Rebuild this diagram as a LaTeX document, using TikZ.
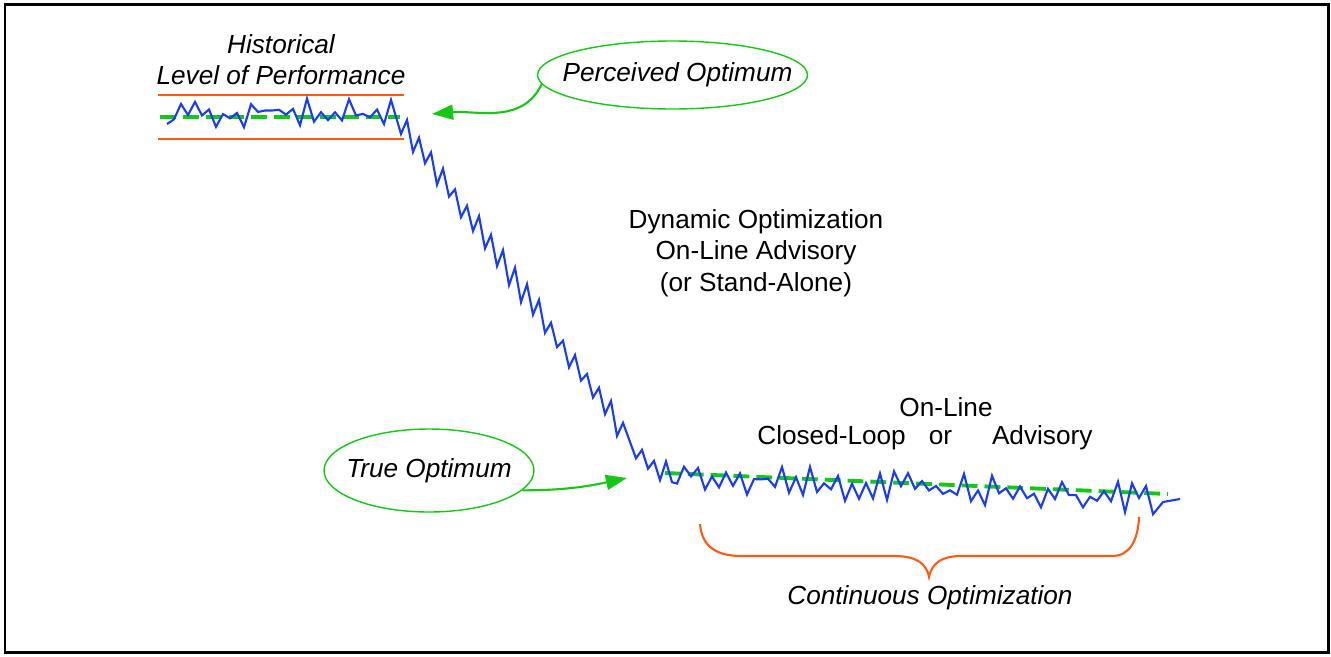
\documentclass[tikz,border=0pt]{standalone}
\usepackage{fontspec}
\setmainfont{Liberation Sans}
\usetikzlibrary{shapes.geometric,arrows.meta}

\definecolor{sigblue}{RGB}{25,60,250}
\definecolor{optgreen}{RGB}{20,200,20}
\definecolor{limorange}{RGB}{255,90,20}

\tikzset{
  caption/.style={font=\fontsize{14.9}{17.8}\selectfont, align=center},
  slanted caption/.style={caption, font=\fontsize{14.9}{17.8}\selectfont\itshape},
  bubble/.style={ellipse, draw=optgreen, line width=0.8pt, inner sep=0pt,
    font=\fontsize{14.9}{17.8}\selectfont\itshape},
  signal/.style={sigblue, line width=1.2pt},
  trend/.style={optgreen, line width=2.2pt, dash pattern=on 9pt off 4pt},
  limit/.style={limorange, line width=1pt},
  pointer/.style={optgreen, line width=1.2pt, -{Triangle[length=12pt,width=8.5pt]}},
  brace line/.style={limorange, line width=1.2pt},
  frame/.style={line width=1.7pt}
}

\begin{document}
\begin{tikzpicture}[x=0.02cm,y=-0.02cm]
\useasboundingbox (0,0) rectangle (1331,656);
\draw[frame] (5,4.5) rectangle (1328.5,652.5);

% historical band and trends
\draw[limit] (158,95) -- (404,95);
\draw[limit] (158,139) -- (404,139);
\draw[trend] (160,117) -- (400,117);
\draw[trend] (665,473) -- (1168,494);

% measured performance
\pgfmathsetseed{11}
\draw[signal] (167,124)
  \foreach \x [count=\i] in {174,181,...,395} { -- (\x,{113+(mod(\i,2)*2-1)*6+10*rand}) }
  \foreach \x [count=\i] in {401,407,...,628} { -- (\x,{120+1.4*(\x-400)+(mod(\i,2)*2-1)*11+4*rand}) }
  \foreach \u [count=\i] in {6,12,...,42} { -- ({630+\u},{442+1.4*\u-0.016*\u*\u+(mod(\i,2)*2-1)*8+3*rand}) }
  \foreach \x [count=\i] in {677,684,...,1158} { -- (\x,{476+0.048*(\x-670)+(mod(\i,2)*2-1)*8+9*rand}) }
  -- (1163,502) -- (1180,499);

% labels
\node[slanted caption] (hist) at (281,60) {Historical\\Level of Performance};
\node[bubble, minimum width=5.4cm, minimum height=1.36cm] (perceived) at (672.5,75) {\makebox[0pt]{\hspace{0.2cm}Perceived Optimum}};
\node[bubble, minimum width=4.2cm, minimum height=1.66cm] (trueopt) at (429,470.5) {\makebox[0pt]{True Optimum}};
\node[caption] (dynamic) at (756,253) {Dynamic Optimization\\On-Line Advisory\\(or Stand-Alone)};
\node[caption] (online) at (946,407) {On-Line};
\node[caption, anchor=west, inner sep=0pt] (modes) at (757,438) {Closed-Loop\hspace{0.46cm}or\hspace{0.8cm}Advisory};
\node[slanted caption] (continuous) at (930,598) {Continuous Optimization};

% pointers
\coordinate (histtip) at (432,114);
\coordinate (truetip) at (627,478);
\draw[pointer] (perceived.184) to[out=-115,in=5] (histtip);
\draw[pointer] (trueopt.-12) to[out=0,in=192] (truetip);

% brace
\draw[brace line] (700,524) .. controls (702,548) and (718,556) .. (742,556) -- (893,556)
  .. controls (915,556) and (926,562) .. (929,577)
  .. controls (932,562) and (943,556) .. (962,556) -- (1112,556)
  .. controls (1130,556) and (1138,540) .. (1139,517);
\end{tikzpicture}
\end{document}
